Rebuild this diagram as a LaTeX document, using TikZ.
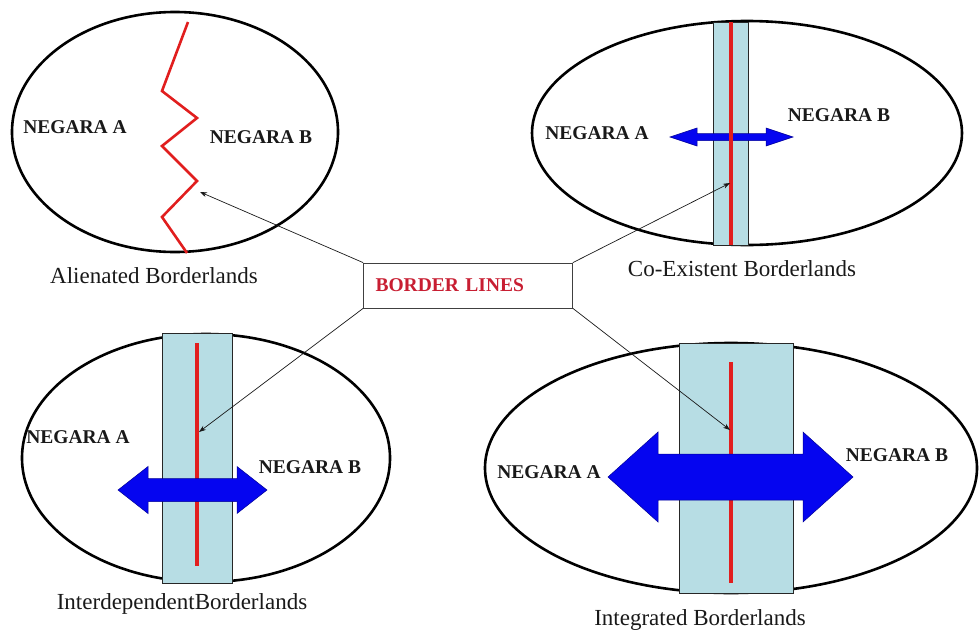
\documentclass[tikz,border=0pt]{standalone}
\usepackage{fontspec}
\setmainfont{Liberation Serif}
\usetikzlibrary{arrows.meta}
\definecolor{stripblue}{RGB}{183,221,228}
\definecolor{borderred}{RGB}{225,30,30}
\definecolor{arrowblue}{RGB}{5,5,240}
\definecolor{arrowedge}{RGB}{0,0,150}
\definecolor{labelred}{RGB}{200,30,50}
\begin{document}
\begin{tikzpicture}[x=1pt,y=-1pt,
  ell/.style={draw=black, line width=2.6pt},
  stripbox/.style={draw=black!85, line width=0.8pt, fill=stripblue},
  redline/.style={draw=borderred, line width=3.2pt},
  zig/.style={draw=borderred, line width=2.6pt, line join=miter},
  bluearrow/.style={fill=arrowblue, draw=arrowedge, line width=0.5pt},
  neg/.style={font=\fontsize{19.5}{22}\selectfont\bfseries, text=black!90, inner sep=0pt},
  captext/.style={font=\fontsize{23}{26}\selectfont, text=black!90, inner sep=0pt},
  conn/.style={draw=black!90, line width=0.7pt, -{Stealth[length=7pt,width=5pt]}},
  boxstyle/.style={draw=black!75, line width=0.8pt, minimum height=45pt, text width=185pt,
    align=left, inner xsep=12pt, inner ysep=0pt, font=\fontsize{19.5}{22}\selectfont\bfseries, text=labelred}
]
\useasboundingbox (0,0) rectangle (980,632);

% ---- Alienated (top left)
\draw[ell] (175,132) ellipse [x radius=163, y radius=120];
\draw[zig] (188,22) -- (162,91) -- (197,118) -- (162,146) -- (197,181) -- (162,217) -- (187,253);
\coordinate (t1) at (200,192);
\node[neg] (a1) at (75,127) {NEGARA A};
\node[neg] (b1) at (261,137) {NEGARA B};
\node[captext] (c1) at (154,276) {Alienated Borderlands};

% ---- Co-Existent (top right)
\draw[ell] (747,133) ellipse [x radius=215, y radius=112];
\draw[stripbox] (713,22) rectangle (748,245);
\draw[bluearrow] (670,137) -- (697,128) -- (697,133.5) -- (766,133.5) -- (766,128) -- (793,137)
  -- (766,146) -- (766,140.5) -- (697,140.5) -- (697,146) -- cycle;
\draw[redline] (731,22) -- (731,245);
\coordinate (t2) at (730,183);
\node[neg] (a2) at (597,133) {NEGARA A};
\node[neg] (b2) at (839,115) {NEGARA B};
\node[captext] (c2) at (742,269) {Co-Existent Borderlands};

% ---- Interdependent (bottom left)
\draw[ell] (206,458) ellipse [x radius=184, y radius=124];
\draw[stripbox] (162,333) rectangle (232,583);
\draw[redline] (197,343) -- (197,566);
\draw[bluearrow] (118,490) -- (148,466.5) -- (148,478.5) -- (237,478.5) -- (237,466.5) -- (267,490)
  -- (237,513.5) -- (237,501.5) -- (148,501.5) -- (148,513.5) -- cycle;
\coordinate (t3) at (199,432);
\node[neg] (a3) at (78,437) {NEGARA A};
\node[neg] (b3) at (310,467) {NEGARA B};
\node[captext] (c3) at (182,604) {InterdependentBorderlands};

% ---- Integrated (bottom right)
\draw[ell] (731,468) ellipse [x radius=246, y radius=125];
\draw[stripbox] (679,343) rectangle (793,593);
\draw[redline] (731,362) -- (731,583);
\draw[bluearrow] (608,477) -- (658,432) -- (658,454) -- (803,454) -- (803,432) -- (853,477)
  -- (803,522) -- (803,500) -- (658,500) -- (658,522) -- cycle;
\coordinate (t4) at (730,430);
\node[neg] (a4) at (549,472) {NEGARA A};
\node[neg] (b4) at (897,455) {NEGARA B};
\node[captext] (c4) at (700,620) {Integrated Borderlands};

% ---- central box and connectors
\node[boxstyle, fill=white] (box) at (468,285.5) {BORDER LINES};
\draw[conn] (box.north west) -- (t1);
\draw[conn] (box.north east) -- (t2);
\draw[conn] (box.south west) -- (t3);
\draw[conn] (box.south east) -- (t4);
\end{tikzpicture}
\end{document}
